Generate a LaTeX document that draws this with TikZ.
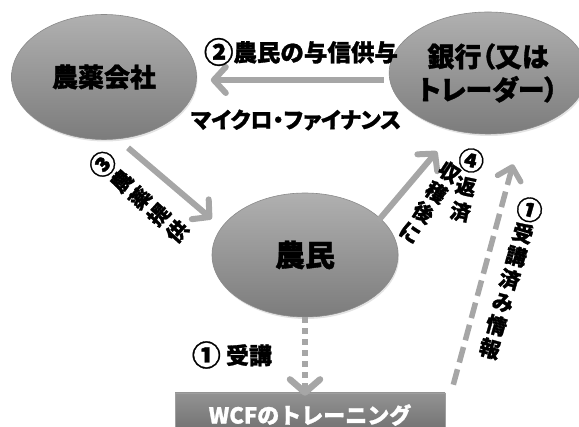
\documentclass[tikz,border=0pt]{standalone}
\usepackage{fontspec}
\newfontfamily\jp{Noto Sans CJK JP}[BoldFeatures={FakeBold=1.2}]
\newfontfamily\jpp{Noto Sans CJK JP}[RawFeature=+palt,BoldFeatures={FakeBold=1.2}]
\newcommand\circnum[1]{\raisebox{-0.08em}{\scalebox{1.25}{#1}}}
\usetikzlibrary{arrows.meta,shapes.geometric,shadows}
\definecolor{arrgray}{HTML}{A6A6A6}
\definecolor{elltop}{HTML}{B0B0B0}
\definecolor{ellbot}{HTML}{7C7C7C}
\definecolor{ellline}{HTML}{8A8A8A}
\definecolor{boxtop}{HTML}{939393}
\definecolor{boxbot}{HTML}{6C6C6C}
\begin{document}
\begin{tikzpicture}[x=1pt,y=-1pt,
  ell/.style={ellipse, inner sep=0pt, top color=elltop, bottom color=ellbot,
    draw=ellline, line width=0.6pt,
    drop shadow={opacity=0.22, shadow xshift=1pt, shadow yshift=-2pt},
    font=\jp\bfseries, align=center},
  arr/.style={draw=arrgray, line width=6pt,
    -{Straight Barb[length=12pt,width=26pt,round]}},
  dotarr/.style={draw=arrgray, line width=6.5pt, dash pattern=on 6pt off 5pt,
    -{Straight Barb[length=13pt,width=30pt,round]}},
  dasharr/.style={draw=arrgray, line width=5.5pt, dash pattern=on 16pt off 7pt,
    -{Straight Barb[length=12pt,width=24pt,round]}},
  lab/.style={font=\jp\bfseries, inner sep=0pt},
  vlab/.style={inner sep=0pt, align=center}]
\useasboundingbox (0,0) rectangle (579,427);
\clip (0,0) rectangle (579,427);

% nodes
\node[ell, minimum width=185pt, minimum height=125pt,
  font=\jp\bfseries\fontsize{26}{30}\selectfont] (agri) at (104,77) {農薬会社};
\node[ell, minimum width=170pt, minimum height=122pt,
  font=\jpp\bfseries\fontsize{27}{33}\selectfont] (bank) at (488,73)
  {銀行（又は\\トレーダー）};
\node[ell, minimum width=186pt, minimum height=124pt,
  font=\jp\bfseries\fontsize{30}{34}\selectfont] (farmer) at (305,255) {農民};
\node[rectangle, minimum width=270pt, minimum height=44pt, inner sep=0pt,
  top color=boxtop, bottom color=boxbot, draw=gray!75, line width=0.6pt,
  drop shadow={opacity=0.2, shadow xshift=1pt, shadow yshift=-2pt},
  text=white, font=\jp\bfseries\fontsize{22}{26}\selectfont] (wcf) at (310,415)
  {WCFのトレーニング};

% connectors
\draw[arr] ([shift={(-5,7)}]bank.west) -- ([shift={(14,3)}]agri.east);
\draw[arr] ([shift={(24,8)}]agri.south) -- ([shift={(0,-36)}]farmer.west);
\draw[arr] ([shift={(73,-34)}]farmer.center) -- ([shift={(-51,17)}]bank.south);
\draw[dotarr] (farmer.south) -- ([yshift=-3pt]farmer.south |- wcf.north);
\draw[dasharr] ([shift={(8,-8)}]wcf.north east) -- ([shift={(25,30)}]bank.south);

% labels
\node[lab, font=\jp\bfseries\fontsize{23.5}{26}\selectfont] (l2) at (301,52) {\circnum{②}農民の与信供与};
\node[lab, font=\jpp\bfseries\fontsize{22}{24}\selectfont] (lmf) at (296,120) {マイクロ・ファイナンス};
\node[lab, font=\jp\bfseries\fontsize{23}{26}\selectfont] (l1) at (232,355) {\circnum{①} 受講};
\node[vlab, rotate=48, font=\jp\bfseries\fontsize{21}{25}\selectfont] (l3) at (139,197)
  {\circnum{③}\\農\\薬\\提\\供};
\node[vlab, rotate=-12, font=\jp\bfseries\fontsize{20.5}{26}\selectfont] (l4a) at (466,185)
  {\circnum{④}\\返\\済};
\node[vlab, rotate=-33, font=\jp\bfseries\fontsize{20.5}{24}\selectfont] (l4b) at (430,202)
  {収\\穫\\後\\に};
\node[vlab, rotate=-16, font=\jp\bfseries\fontsize{21}{24}\selectfont] (l1b) at (510,278)
  {\circnum{①}\\受\\講\\済\\み\\情\\報};
\end{tikzpicture}
\end{document}
